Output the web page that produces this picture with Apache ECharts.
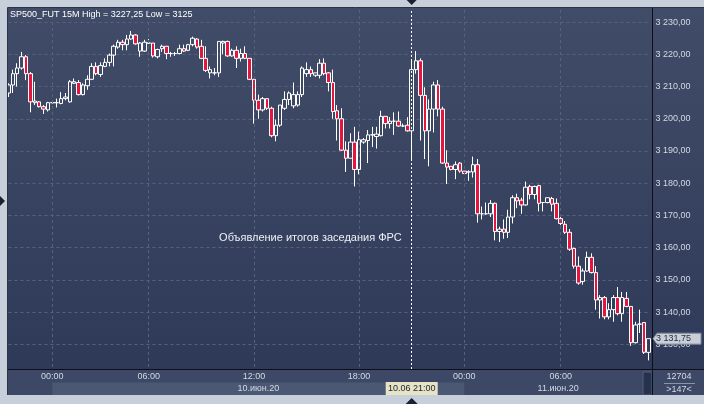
<!DOCTYPE html>
<html><head><meta charset="utf-8">
<script src="https://cdn.jsdelivr.net/npm/echarts@6/dist/echarts.min.js"></script>
<style>html,body{margin:0;padding:0;background:#c7cfda;overflow:hidden}#c{width:704px;height:404px}</style>
</head><body><div id="c"></div>
<script>
// ---------------- data ----------------
const chartTitle = 'SP500_FUT 15M High = 3227,25 Low = 3125';
const annotationText = 'Объявление итогов заседания ФРС';
const days = ['09.06', '10.06', '11.06'];
const dayLabels = { '10.06': '10.июн.20', '11.06': '11.июн.20' };
const firstSlot = '21:30';
const skippedSlots = ['00:15', '00:30'];
const barCount = 147;
const tickTimes = ['00:00', '06:00', '12:00', '18:00'];
const eventCategory = '10.06 21:00';
const eventLabel = '10.06 21:00';
const lastPrice = 3131.75;
const annotationLevel = 3163;
const yTicks = [3130, 3140, 3150, 3160, 3170, 3180, 3190, 3200, 3210, 3220, 3230];
const volumeText = '12704';
const countText = '>147<';

const openPrices = [
3208,3210.5,3214,3215.75,3219.25,3214,3205,3205.25,3203.75,3202.75,
3205,3205,3204.75,3206.25,3205.25,3211,3211.25,3207.5,3210.25,3212.25,
3216.25,3213.75,3216.25,3217.5,3219.75,3222.25,3223.75,3223,3224.75,3226,
3221,3221,3223.5,3223.5,3219.25,3221.75,3222.5,3220.25,3220.25,3220.25,
3221.75,3221.25,3223,3224.75,3222.5,3218.75,3214.25,3214.25,3214.25,3223.5,
3224,3219.5,3221.25,3218.75,3220.25,3218.75,3212.25,3205.75,3202.75,3206.25,
3203.25,3194.75,3198,3203.25,3206,3204,3204.25,3207.5,3214,3215.25,
3213.5,3213.5,3217.25,3214.25,3211.25,3202.5,3200,3190.25,3187.75,3192.75,
3184.25,3192.75,3193.25,3195,3194.5,3194.75,3200.75,3198.5,3199.25,3199.25,
3197.75,3198,3196.25,3215.25,3218,3207.25,3196.25,3203,3210.5,3203,
3186.25,3185.25,3184.25,3186.25,3183.75,3183.5,3183.5,3185.75,3170.5,3170.5,
3170.5,3173.75,3165,3165.75,3164.75,3169.5,3175.5,3174.75,3173.25,3179,
3176.5,3179.25,3174,3174,3175.25,3173.75,3169,3167.25,3164.75,3159.75,
3154.25,3149.5,3152.75,3157,3152.25,3143.75,3144.5,3138.5,3140.75,3144.5,
3139.5,3144.25,3141.75,3130.5,3136.25,3136.75,3127.5];
const closePrices = [
3210.5,3214,3215.75,3219.25,3214,3205.25,3205.5,3203.75,3203,3205,
3205,3205,3206.25,3206.75,3211.5,3211.5,3207.5,3210.5,3212.25,3216.25,
3214,3216.5,3217.5,3219.75,3222.5,3223.75,3223,3224.75,3226,3223.25,
3223.5,3223.75,3223.5,3219.5,3221.5,3222.5,3220.25,3220.25,3220.25,3221.75,
3221,3223,3225,3222.25,3218.75,3215,3215.25,3214.25,3224,3224,
3219.5,3221.25,3218.75,3220.25,3218.75,3212.25,3205.75,3202.75,3206.25,3203.25,
3194.75,3198,3204.25,3206,3208,3207.5,3207.5,3215.75,3215.25,3214,
3214.25,3217.25,3214,3211.25,3202.25,3200,3190.25,3187.75,3192.75,3184.25,
3193.5,3193.5,3195,3195,3195.25,3200.75,3198.5,3199.25,3199.25,3197.75,
3197.75,3196.25,3215.25,3218,3207.25,3196.25,3203,3210.5,3203,3186.25,
3185,3184.25,3185.75,3183.75,3183,3183.5,3185.75,3170.5,3170.5,3170.5,
3173.75,3165,3165.75,3164.75,3169.5,3175.5,3174.5,3173.25,3178.75,3176.5,
3179,3173.75,3174,3175.5,3173.5,3169,3167.5,3164.75,3159.5,3154.25,
3149,3152.75,3157,3152.25,3143.75,3144.5,3138.5,3140.75,3144.5,3139.5,
3144.5,3141.75,3130.5,3136,3136.25,3127.5,3131.75];
const lowPrices = [
3206.75,3208,3210,3215.25,3212,3202,3204.25,3203.5,3201.5,3202.25,
3204.75,3203.5,3204.5,3205.75,3205,3210.75,3207.25,3207.25,3209,3212,
3213.5,3213,3216,3216.25,3216.25,3221.75,3221.25,3221.25,3224.5,3223,
3219.25,3220.75,3223.25,3219,3218.75,3220.75,3218.5,3219.25,3219.5,3220,
3220.75,3221,3222.5,3221.75,3218.5,3214.5,3212.5,3213.5,3213,3220,
3219.25,3219.25,3215.75,3217.75,3218.5,3212,3198.5,3200,3202.25,3202.75,
3194.25,3193,3197.5,3202.75,3204.25,3203.25,3203.75,3206.75,3213,3213,
3213,3212.5,3213.5,3208.5,3200,3193.25,3190,3183.5,3187.75,3179,
3182.75,3192.25,3186.25,3191.25,3190.75,3194.5,3197,3197,3195,3197.5,
3197.5,3196,3187.25,3214,3193.25,3187.5,3185.25,3195.75,3200.75,3186,
3179.75,3184,3181.25,3183.25,3183,3180.75,3181.75,3167.75,3168.75,3170.25,
3169.5,3162.25,3161.75,3162.75,3163,3167.5,3172.25,3170.5,3173,3175,
3175,3171.25,3171.25,3173.75,3171.25,3168.75,3167,3164.25,3159,3153.5,
3148.5,3148.5,3152.5,3152,3140.75,3138,3137.75,3137.75,3137,3139,
3137,3141.5,3129.5,3130.25,3133.5,3127,3125];
const highPrices = [
3211,3215.25,3217.25,3220.75,3219.75,3214.5,3211.5,3205.5,3204.25,3205.25,
3205.25,3206.25,3208.25,3208,3212,3212.5,3212,3211,3213.5,3217.25,
3217.5,3217.5,3218.75,3220.25,3223,3224.5,3224.5,3226,3227.25,3226.25,
3223.75,3224.5,3224.75,3223.5,3221.75,3223,3222.5,3220.75,3220.75,3223,
3223,3223.25,3225.5,3225,3224.5,3222.5,3216.25,3215.75,3224,3224.25,
3224.25,3221.75,3222.5,3221.75,3222.5,3218.75,3212.25,3207.5,3206.75,3206.25,
3203.75,3199.75,3204.25,3208.5,3208.5,3211.25,3208.5,3216.25,3217.5,3216.25,
3214.25,3218.5,3218.75,3214.5,3215.25,3204.25,3203.25,3193,3195.5,3197.5,
3196,3194,3196.5,3197.5,3197.5,3202.5,3200.75,3200.5,3202,3202.25,
3198.5,3200.5,3218.25,3221,3218.75,3209.75,3206,3211.5,3212,3203.75,
3190.25,3185.25,3186.75,3186.5,3183.75,3184,3188.25,3187.5,3172.75,3174,
3174.75,3174,3166.5,3168.75,3171.75,3176.25,3176.75,3175.5,3180.5,3179.5,
3179.25,3179.5,3174,3175.5,3175.75,3175.25,3169.75,3168.25,3165.75,3160,
3157.25,3153.5,3158.75,3158.25,3154.25,3145.25,3145,3142.75,3145.25,3147.75,
3146.25,3146.25,3141.75,3137,3140.75,3136.75,3131.75];

// ---------------- build ----------------
const pad = n => (n < 10 ? '0' : '') + n;
const categories = [];
{
  let h = +firstSlot.slice(0, 2), m = +firstSlot.slice(3), d = 0;
  while (categories.length < barCount) {
    const t = pad(h) + ':' + pad(m);
    if (!skippedSlots.includes(t)) categories.push(days[d] + ' ' + t);
    m += 15; if (m === 60) { m = 0; h++; } if (h === 24) { h = 0; d++; }
  }
}
const candles = categories.map((c, i) => [openPrices[i], closePrices[i], lowPrices[i], highPrices[i]]);
const FONT = '"Liberation Sans", Arial, sans-serif';
const isTick = (idx, val) => tickTimes.includes(String(val).slice(6));
const fmtPrice = v => {
  const s = v.toFixed(2).split('.');
  return s[0].replace(/\B(?=(\d{3})+(?!\d))/g, ' ') + ',' + s[1];
};
const gridLine = { color: '#56627d', type: [3, 3], width: 1 };

const option = {
  animation: false,
  backgroundColor: { type: 'linear', x: 0, y: 0, x2: 0, y2: 1,
    colorStops: [{ offset: 0, color: '#414d68' }, { offset: 1, color: '#2c3856' }] },
  grid: { left: 8.47, right: 55.6, top: 10, height: 359, containLabel: false },
  xAxis: {
    type: 'category', data: categories, boundaryGap: false, z: 5,
    axisLine: { show: false }, axisTick: { show: false },
    axisLabel: { interval: isTick, formatter: v => v.slice(6), color: '#d3d9e3',
      fontSize: 9, fontFamily: FONT, margin: 3 },
    splitLine: { show: true, interval: isTick, lineStyle: gridLine }
  },
  yAxis: {
    type: 'value', position: 'right', offset: 4, min: 3122.33, max: 3233.76, scale: true,
    axisLine: { show: false },
    axisTick: { show: false, customValues: yTicks },
    axisLabel: { customValues: yTicks, formatter: fmtPrice, color: '#d3d9e3',
      fontSize: 9, fontFamily: FONT, margin: 3 },
    splitLine: { show: true, lineStyle: gridLine }
  },
  series: [{
    type: 'candlestick', data: candles, barWidth: 4, clip: false, z: 3,
    itemStyle: { color: 'rgba(0,0,0,0)', color0: '#e4163f', borderColor: '#ffffff',
      borderColor0: '#ffffff', borderColorDoji: '#ffffff', borderWidth: 1 },
    markLine: {
      silent: true, symbol: ['none', 'none'], animation: false,
      label: { show: false },
      lineStyle: { color: '#ffffff', type: [2, 2], width: 1 },
      data: [{ xAxis: eventCategory }]
    }
  }]
};

const chart = echarts.init(document.getElementById('c'), null, { renderer: 'canvas' });
chart.setOption(option);

const xOf = i => chart.convertToPixel({ xAxisIndex: 0 }, i);
const yOf = v => chart.convertToPixel({ yAxisIndex: 0 }, v);

const PL = 8, PT = 8, PB = 395, AX = 652, BAND = 369.5;
const light = '#c7cfda';
const g = [];
// bottom band
g.push({ type: 'rect', shape: { x: PL, y: BAND + 0.5, width: AX - PL, height: PB - BAND - 0.5 }, style: { fill: '#3c4865' }, z: 1 });
g.push({ type: 'rect', shape: { x: AX, y: BAND + 0.5, width: 704 - AX, height: PB - BAND - 0.5 }, style: { fill: '#3c4865' }, z: 1 });
// day regions
const dayStarts = [];
categories.forEach((c, i) => { if (i > 0 && c.slice(0, 5) !== categories[i - 1].slice(0, 5)) dayStarts.push(i); });
const edges = [PL].concat(dayStarts.map(xOf)).concat([AX - 9]);
for (let k = 0; k < edges.length - 1; k++) {
  const day = categories[k === 0 ? 0 : dayStarts[k - 1]].slice(0, 5);
  const x0 = edges[k], x1 = edges[k + 1];
  if (k % 2 === 1) g.push({ type: 'rect', shape: { x: x0, y: 382.5, width: x1 - x0, height: PB - 382.5 }, style: { fill: '#4b5873' }, z: 2 });
  if (dayLabels[day]) g.push({ type: 'text', z: 7, style: { text: dayLabels[day], x: (x0 + edges[k + 1] + (k === edges.length - 2 ? 9 : 0)) / 2, y: 389, align: 'center', verticalAlign: 'middle', fill: '#d3d9e3', font: '9px ' + FONT } });
}
// scroll bar
g.push({ type: 'rect', shape: { x: AX - 9, y: 372, width: 9, height: PB - 372 }, style: { fill: '#27324d', stroke: '#55607a', lineWidth: 1 }, z: 3 });
// bottom-right box
g.push({ type: 'text', z: 7, style: { text: volumeText, x: 679, y: 376.5, align: 'center', verticalAlign: 'middle', fill: '#d3d9e3', font: '9px ' + FONT } });
g.push({ type: 'line', z: 7, shape: { x1: 664, y1: 383.5, x2: 695, y2: 383.5 }, style: { stroke: '#8a94a8', lineWidth: 1 } });
g.push({ type: 'text', z: 7, style: { text: countText, x: 679, y: 389.5, align: 'center', verticalAlign: 'middle', fill: '#d3d9e3', font: '9px ' + FONT } });
// frame lines
g.push({ type: 'line', z: 50, shape: { x1: AX + 0.5, y1: PT, x2: AX + 0.5, y2: PB }, style: { stroke: '#0d1018', lineWidth: 1 } });
g.push({ type: 'line', z: 50, shape: { x1: PL, y1: BAND, x2: 704, y2: BAND }, style: { stroke: '#0d1018', lineWidth: 1 } });
// outer light strips
g.push({ type: 'rect', z: 100, shape: { x: 0, y: 0, width: 704, height: PT }, style: { fill: light } });
g.push({ type: 'rect', z: 100, shape: { x: 0, y: 0, width: PL, height: 404 }, style: { fill: light } });
g.push({ type: 'rect', z: 100, shape: { x: 0, y: PB, width: 704, height: 404 - PB }, style: { fill: light } });
g.push({ type: 'line', z: 101, shape: { x1: PL - 0.5, y1: PT - 0.5, x2: PL - 0.5, y2: PB }, style: { stroke: '#2a3347', lineWidth: 1 } });
g.push({ type: 'line', z: 101, shape: { x1: PL - 0.5, y1: PT - 0.5, x2: 704, y2: PT - 0.5 }, style: { stroke: '#2a3347', lineWidth: 1 } });
// crosshair markers
const ex = xOf(categories.indexOf(eventCategory));
g.push({ type: 'polygon', z: 102, shape: { points: [[ex - 5, 0], [ex + 5, 0], [ex, 5]] }, style: { fill: '#1b2130' } });
g.push({ type: 'polygon', z: 102, shape: { points: [[ex - 6, 404], [ex + 6, 404], [ex, 398]] }, style: { fill: '#1b2130' } });
g.push({ type: 'polygon', z: 102, shape: { points: [[0, 196], [0, 206], [5, 201]] }, style: { fill: '#1b2130' } });
g.push({ type: 'rect', z: 60, shape: { x: ex - 26, y: 382, width: 52, height: 13 }, style: { fill: '#e6e4c4' } });
g.push({ type: 'text', z: 61, style: { text: eventLabel, x: ex, y: 388.5, align: 'center', verticalAlign: 'middle', fill: '#1c2230', font: '9px ' + FONT } });
// annotation
g.push({ type: 'text', z: 20, style: { text: annotationText, x: ex - 10, y: yOf(annotationLevel), align: 'right', verticalAlign: 'middle', fill: '#eef1f6', font: '11px ' + FONT } });
// title
g.push({ type: 'text', z: 60, style: { text: chartTitle, x: 10, y: 15, align: 'left', verticalAlign: 'middle', fill: '#ffffff', font: '9px ' + FONT } });
// last price marker
const ly = yOf(lastPrice);
g.push({ type: 'polygon', z: 60, shape: { points: [[AX + 1, ly], [AX + 5, ly - 5.5], [701, ly - 5.5], [701, ly + 5.5], [AX + 5, ly + 5.5]] }, style: { fill: '#c9ced7', stroke: '#7d8799', lineWidth: 1 } });
g.push({ type: 'text', z: 61, style: { text: fmtPrice(lastPrice), x: AX + 4, y: ly, align: 'left', verticalAlign: 'middle', fill: '#1f2a45', font: '9px ' + FONT } });

chart.setOption({ graphic: { elements: g } });
</script></body></html>
